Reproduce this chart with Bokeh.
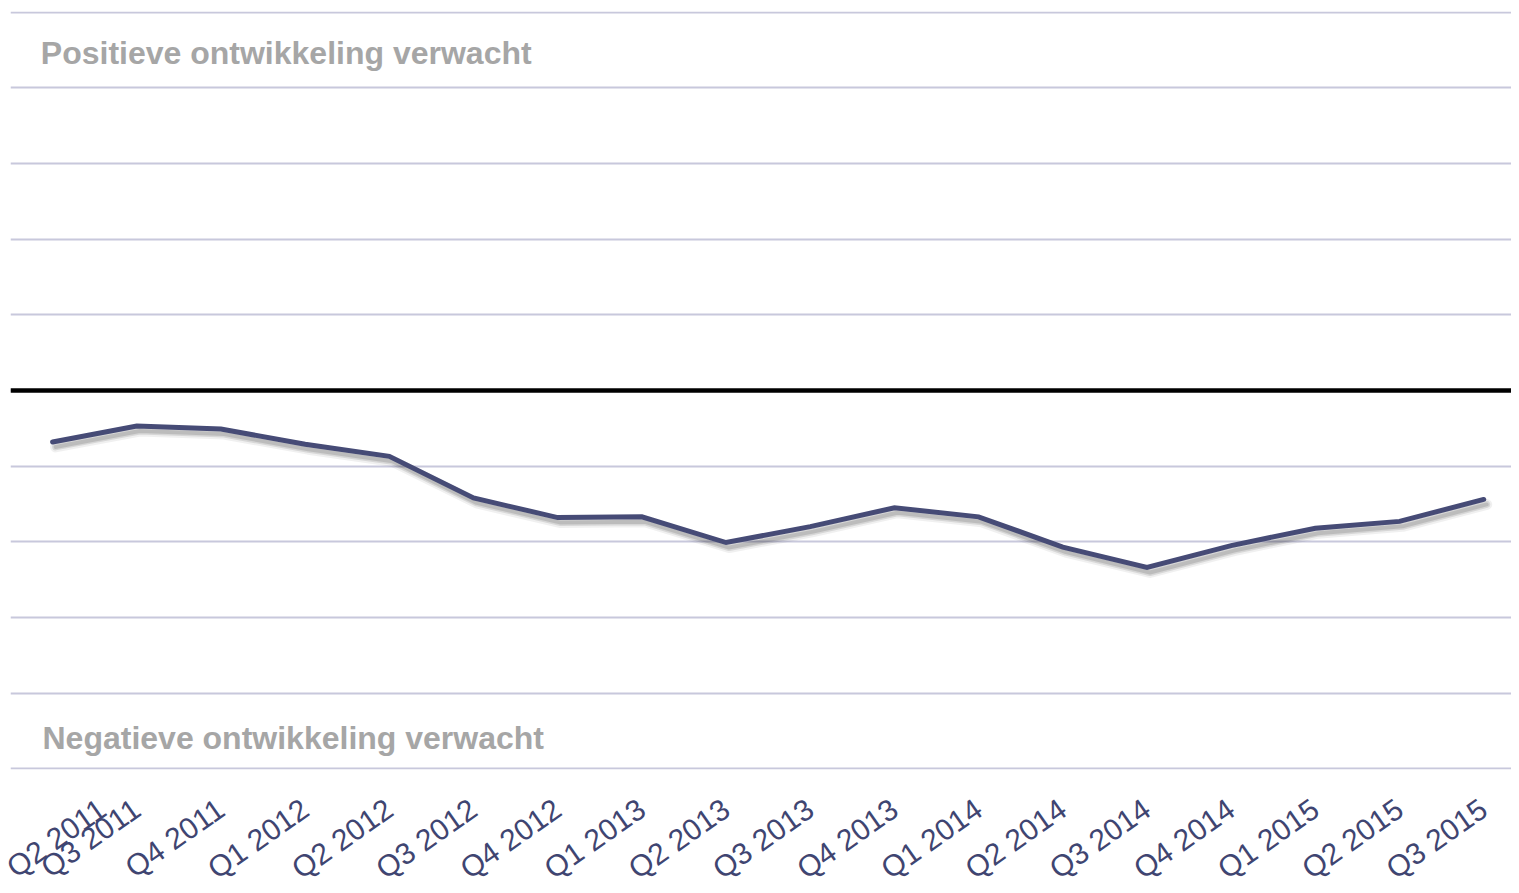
from bokeh.plotting import figure
from bokeh.models import Range1d, FixedTicker, Grid, Span, Label, LinearAxis
from bokeh.embed import file_html
from bokeh.resources import INLINE
import math

quarters = ["Q2 2011", "Q3 2011", "Q4 2011", "Q1 2012", "Q2 2012", "Q3 2012", "Q4 2012",
            "Q1 2013", "Q2 2013", "Q3 2013", "Q4 2013", "Q1 2014", "Q2 2014", "Q3 2014",
            "Q4 2014", "Q1 2015", "Q2 2015", "Q3 2015"]
values = [-0.68, -0.47, -0.51, -0.71, -0.87, -1.42, -1.68, -1.67, -2.01, -1.80,
          -1.55, -1.67, -2.07, -2.34, -2.05, -1.82, -1.73, -1.44]
grid_levels = [-5, -4, -3, -2, -1, 0, 1, 2, 3, 4, 5]
top_label = "Positieve ontwikkeling verwacht"
bottom_label = "Negatieve ontwikkeling verwacht"

xs = list(range(len(quarters)))

p = figure(output_backend="svg", toolbar_location=None,
           frame_width=1501, frame_height=758,
           x_range=Range1d(-0.5, 17.33), y_range=Range1d(-5.01, 5.01),
           x_axis_location=None, y_axis_location=None,
           min_border_left=10, min_border_top=11, min_border_right=0, min_border_bottom=0)
p.outline_line_color = None
p.background_fill_color = "white"
p.border_fill_color = "white"
for g in p.grid:
    g.visible = False

grid = Grid(dimension=1, ticker=FixedTicker(ticks=grid_levels),
            grid_line_color="#C8C8DC", grid_line_width=2)
p.add_layout(grid)

p.add_layout(Span(location=0, dimension="width", line_color="black", line_width=4.5))

# soft drop shadow of the line (offset a few pixels down-right)
dx = 3.0 / 84.2
dy = 5.0 / 75.8
sx = [x + dx for x in xs]
sy = [v - dy for v in values]
p.line(sx, sy, line_color="#000000", line_alpha=0.06, line_width=11, line_join="round", line_cap="round")
p.line(sx, sy, line_color="#000000", line_alpha=0.10, line_width=7, line_join="round", line_cap="round")
p.line(sx, sy, line_color="#000000", line_alpha=0.12, line_width=4, line_join="round", line_cap="round")

p.line(xs, values, line_color="#464B76", line_width=5, line_join="miter", line_cap="round")

xaxis = LinearAxis(ticker=FixedTicker(ticks=xs),
                   major_label_overrides={i: q for i, q in enumerate(quarters)})
xaxis.axis_line_color = None
xaxis.major_tick_line_color = None
xaxis.minor_tick_line_color = None
xaxis.major_label_orientation = math.radians(35)
xaxis.major_label_text_font = "Liberation Sans"
xaxis.major_label_text_font_size = "30px"
xaxis.major_label_text_color = "#3F4571"
xaxis.major_label_standoff = 30
p.add_layout(xaxis, "below")

p.add_layout(Label(x=-0.14, y=4.46, text=top_label, text_font="Liberation Sans",
                   text_font_style="bold", text_font_size="32px", text_color="#A6A6A6",
                   text_baseline="middle", text_align="left"))
p.add_layout(Label(x=-0.12, y=-4.6, text=bottom_label, text_font="Liberation Sans",
                   text_font_style="bold", text_font_size="32px", text_color="#A6A6A6",
                   text_baseline="middle", text_align="left"))

open("out.html", "w").write(file_html(p, INLINE))
